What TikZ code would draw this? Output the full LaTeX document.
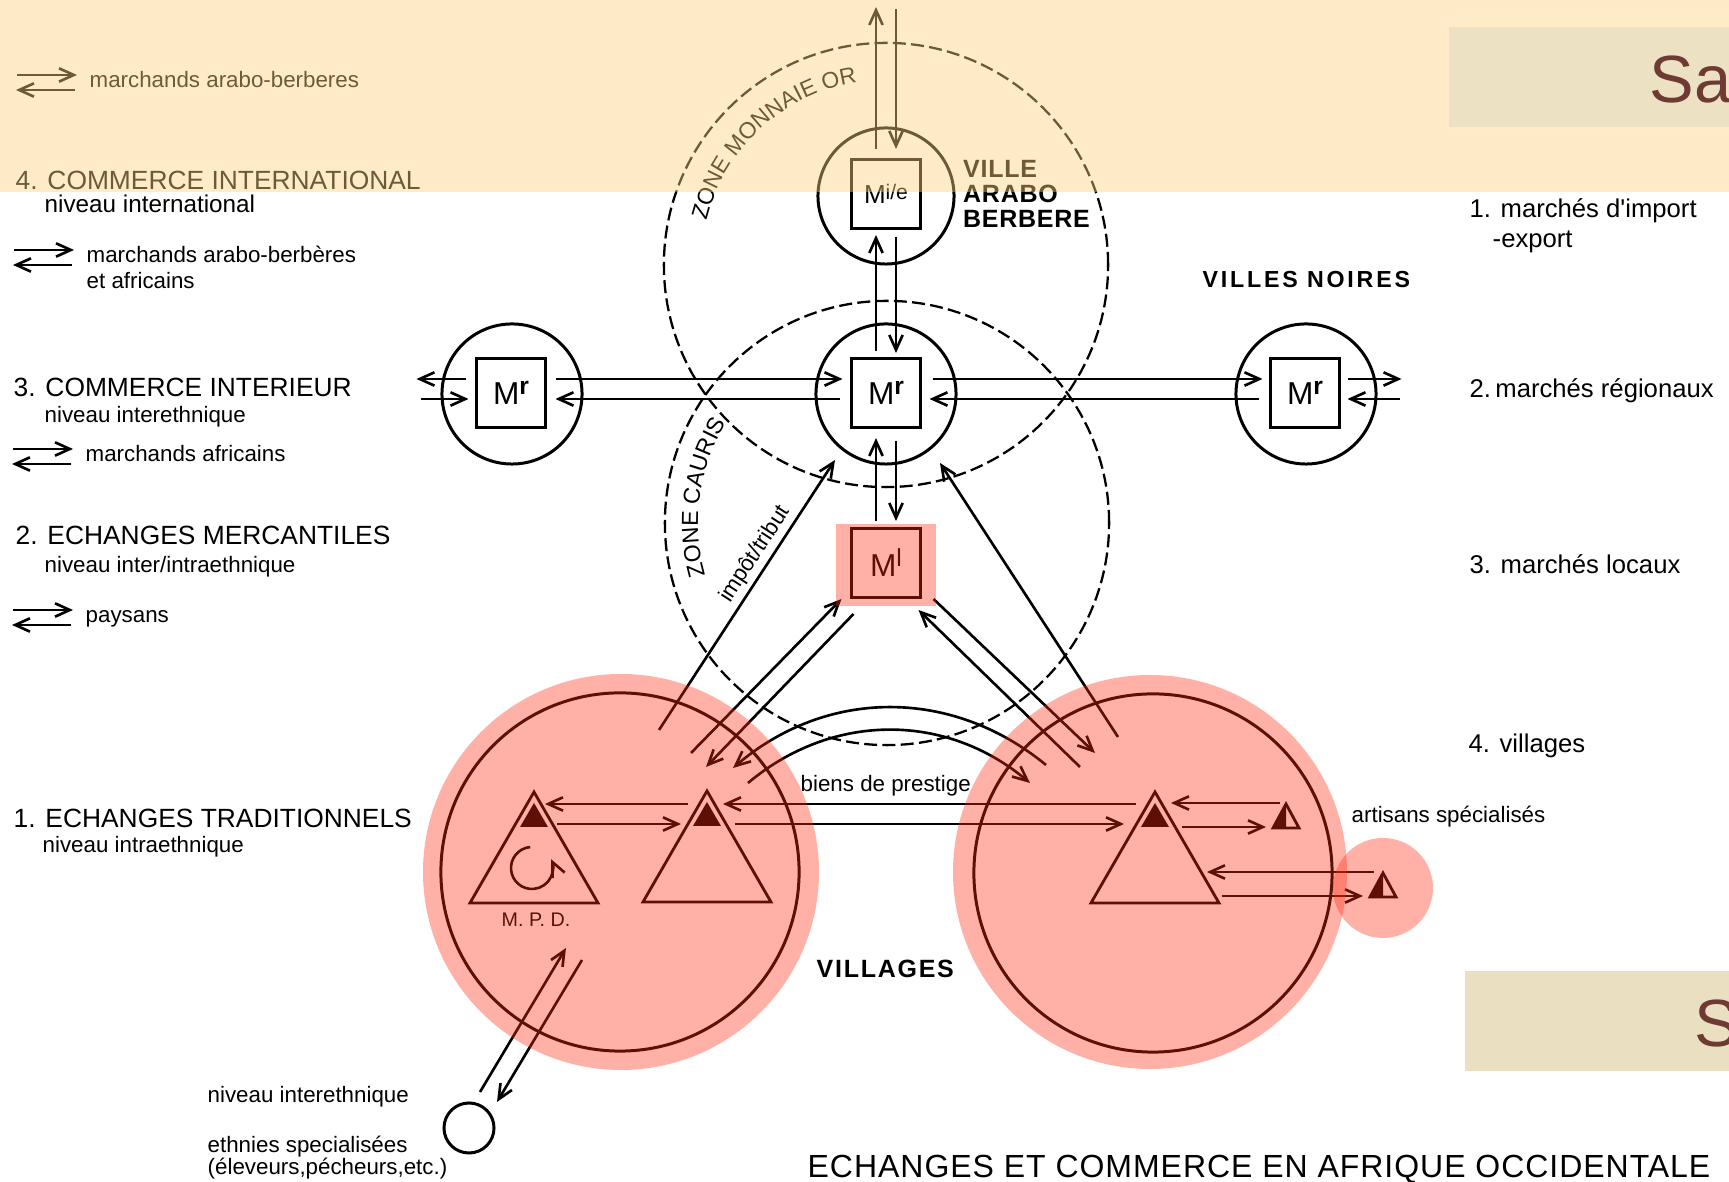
\documentclass[tikz,border=0pt]{standalone}
\usepackage{fontspec}
\setmainfont{Liberation Sans}
\usepackage{tikz}
\usetikzlibrary{positioning,calc,arrows.meta,decorations.text}
\definecolor{veilred}{RGB}{255,45,20}
\definecolor{veilsand}{RGB}{255,210,128}
\definecolor{slide}{HTML}{ECE1C3}
\definecolor{slidelow}{HTML}{EAE0C1}
\definecolor{slidetext}{HTML}{6E3A33}
\newcommand{\market}[4]{{\fontsize{#1}{#1}\selectfont M\raisebox{#3}{\fontsize{#2}{#2}\selectfont #4}}}
\newcommand{\hut}[1]{\draw[line width=0.8pt] (#1) -- ++(64,-111) -- ++(-128,0) -- cycle;
  \fill ($(#1)+(0,-11)$) -- ++(14,-24) -- ++(-28,0) -- cycle;}
\newcommand{\artisan}[1]{\fill (#1) -- ++(0,-24) -- ++(-13,0) -- cycle;
  \draw[line width=0.8pt] (#1) -- ++(13,-24) -- ++(-26,0) -- cycle;}
\newcommand{\pairs}[1]{\draw[flow] ($(#1.base west)+(-72,13)$) -- ($(#1.base west)+(-12,13)$);
  \draw[flow] ($(#1.base west)+(-14,-2)$) -- ($(#1.base west)+(-73,-2)$);}

\begin{document}
\begin{tikzpicture}[x=0.01cm,y=0.01cm,
    flow/.style={-{Straight Barb[length=4.2pt,width=3.8pt]},line width=0.75pt},
    ring/.style={draw,circle,line width=0.85pt,inner sep=0pt},
    mbox/.style={draw,line width=0.85pt,minimum width=0.68cm,minimum height=0.69cm,inner sep=0pt},
    zone/.style={draw,circle,line width=0.65pt,dash pattern=on 3.7pt off 1.5pt,minimum size=4.44cm,inner sep=0pt},
    veil/.style={fill=veilred,fill opacity=0.37},
    head/.style={anchor=base west,inner sep=0pt,font=\fontsize{7.5}{9}\selectfont},
    note/.style={anchor=base west,inner sep=0pt,font=\fontsize{6.35}{7.6}\selectfont},
    level/.style={anchor=base west,inner sep=0pt,font=\fontsize{7.3}{8.8}\selectfont},
    place/.style={anchor=base west,inner sep=0pt,font=\bfseries\fontsize{7.1}{8.5}\selectfont\addfontfeature{LetterSpace=3}}]
  \useasboundingbox (0,0) rectangle (1729,1182);
  \fill[white] (0,0) rectangle (1729,1182);

  \node[zone] (zoneOr) at (886,917) {};
  \node[zone] (zoneCauris) at (887,659) {};
  \path[decorate,decoration={text along path,text align=center,text={|\fontsize{6.5}{7}\selectfont|ZONE MONNAIE OR}}]
    ($(zoneOr.center)+(175:185)$) arc[start angle=175,end angle=90,radius=185];
  \path[decorate,decoration={text along path,text align=center,text={|\fontsize{6.6}{7}\selectfont|ZONE CAURIS}}]
    ($(zoneCauris.center)+(205:189)$) arc[start angle=205,end angle=139,radius=189];

  \node[ring,minimum size=1.36cm] (cMie) at (886,986) {};
  \node[mbox] (mie) at (886,988) {\market{7.4}{6}{1.3pt}{i/e}};
  \node[ring,minimum size=1.4cm] (cMrW) at (512,788) {};
  \node[ring,minimum size=1.4cm] (cMrC) at (886,788) {};
  \node[ring,minimum size=1.4cm] (cMrE) at (1306,788) {};
  \node[mbox] (mrW) at (511,789) {\market{9}{7}{2.8pt}{\textbf{r}}};
  \node[mbox] (mrC) at (886,789) {\market{9}{7}{2.8pt}{\textbf{r}}};
  \node[mbox] (mrE) at (1305,789) {\market{9}{7}{2.8pt}{\textbf{r}}};
  \node[mbox] (ml) at (886,619) {\market{9}{7}{2.85pt}{l}};
  \node[ring,minimum size=3.58cm] (vilW) at (620,310) {};
  \node[ring,minimum size=3.58cm] (vilE) at (1153,309) {};
  \node[ring,minimum size=0.5cm] (ethnie) at (469,54) {};

  \coordinate (hutMpd) at (534,390);
  \coordinate (hutW) at (707,391);
  \coordinate (hutE) at (1155,390);
  \coordinate (art1) at (1286,378);
  \coordinate (art2) at (1383,309);
  \hut{hutMpd} \hut{hutW} \hut{hutE}
  \artisan{art1} \artisan{art2}
  \draw[flow] ($(hutMpd)+(-2,-76)+(95:21)$) arc[start angle=95,end angle=385,radius=21];
  \node[anchor=base,inner sep=0pt,font=\fontsize{5.6}{6}\selectfont] (mpd) at ($(hutMpd)+(2,-135)$) {M. P. D.};

  \draw[flow] ($(mie.north)+(-10,9)$) -- ($(mie.north)+(-10,151)$);
  \draw[flow] ($(mie.north)+(10,149)$) -- ($(mie.north)+(10,9)$);
  \draw[flow] ($(mrC.north)+(-10,6)$) -- ($(mie.south)+(-10,-5)$);
  \draw[flow] ($(mie.south)+(10,-7)$) -- ($(mrC.north)+(10,4)$);
  \draw[flow] ($(ml.north)+(-10,6)$) -- ($(mrC.south)+(-10,-9)$);
  \draw[flow] ($(mrC.south)+(10,-12)$) -- ($(ml.north)+(10,6)$);

  \draw[flow] ($(mrW.west)+(-9,14)$) -- ($(mrW.west)+(-59,14)$);
  \draw[flow] ($(mrW.west)+(-54,-6)$) -- ($(mrW.west)+(-7,-6)$);
  \draw[flow] ($(mrW.east)+(9,14)$) -- ($(mrC.west)+(-8,14)$);
  \draw[flow] ($(mrC.west)+(-10,-6)$) -- ($(mrW.east)+(9,-6)$);
  \draw[flow] ($(mrC.east)+(11,14)$) -- ($(mrE.west)+(-7,14)$);
  \draw[flow] ($(mrE.west)+(-10,-6)$) -- ($(mrC.east)+(8,-6)$);
  \draw[flow] ($(mrE.east)+(7,14)$) -- ($(mrE.east)+(61,14)$);
  \draw[flow] ($(mrE.east)+(59,-6)$) -- ($(mrE.east)+(7,-6)$);

  \draw[flow] ($(hutW)+(-19,-13)$) -- ($(hutMpd)+(11,-12)$);
  \draw[flow] ($(hutMpd)+(23,-32)$) -- ($(hutW)+(-26,-33)$);
  \draw[flow] ($(hutE)+(-19,-12)$) -- ($(hutW)+(16,-13)$);
  \draw[flow] ($(hutW)+(28,-33)$) -- ($(hutE)+(-31,-32)$);
  \draw[flow] ($(art1)+(-6,1)$) -- ($(hutE)+(16,-11)$);
  \draw[flow] ($(hutE)+(27,-35)$) -- ($(art1)+(-20,-23)$);
  \draw[flow] ($(art2)+(-9,1)$) -- ($(hutE)+(52,-80)$);
  \draw[flow] ($(hutE)+(67,-104)$) -- ($(art2)+(-20,-23)$);

  \draw[flow] ($(hutW)+(-16,38)$) -- ($(ml.south west)+(-9,0)$);
  \draw[flow] ($(ml.south west)+(3,-15)$) -- ($(hutW)+(-1,24)$);
  \draw[flow] ($(vilW.center)+(39,142)$) -- node[sloped,above=1pt,pos=0.62,inner sep=0pt,font=\fontsize{6.35}{7.6}\selectfont] (tribut) {impôt/tribut} ($(cMrC.center)+(-51,-66)$);
  \draw[flow] ($(ml.south east)+(12,0)$) -- ($(hutE)+(-60,39)$);
  \draw[flow] ($(hutE)+(-75,25)$) -- ($(ml.south east)+(-3,-11)$);
  \draw[flow] ($(hutE)+(-37,55)$) -- ($(cMrC.center)+(54,-69)$);
  \draw[flow] ($(hutE)+(-109,27)$) to[bend right=40] ($(hutW)+(26,23)$);
  \draw[flow] ($(hutW)+(41,8)$) to[bend left=40] ($(hutE)+(-125,9)$);
  \draw[flow] ($(ethnie.center)+(11,36)$) -- ($(hutMpd)+(32,-156)$);
  \draw[flow] ($(hutMpd)+(48,-168)$) -- ($(ethnie.center)+(28,26)$);

  \node[place] (villeA) at ($(cMie.east)+(7,18)$) {VILLE};
  \node[place] (villeB) at ($(cMie.east)+(7,-7)$) {ARABO};
  \node[place] (villeC) at ($(cMie.east)+(7,-32)$) {BERBERE};
  \node[place,font=\bfseries\fontsize{6.6}{8}\selectfont\addfontfeature{LetterSpace=12}] (noires) at (1202,894) {VILLES NOIRES};
  \node[place,font=\bfseries\fontsize{7.1}{8.5}\selectfont\addfontfeature{LetterSpace=7}] (villages) at (816,204) {VILLAGES};
  \node[note] (prestige) at (800,390) {biens de prestige};
  \node[note] (artisans) at (1351,359) {artisans spécialisés};

  \node[note] (mkArabo) at (89,1094) {marchands arabo-berberes};
  \pairs{mkArabo}
  \node[head] (trade4) at (15,992) {4. COMMERCE INTERNATIONAL};
  \node[note,font=\fontsize{6.9}{8}\selectfont] (trade4sub) at (44,969) {niveau international};
  \node[note] (mkMixed) at (86,919) {marchands arabo-berbères};
  \node[note] (mkMixedB) at (86,893) {et africains};
  \pairs{mkMixed}
  \node[head] (trade3) at (13,785) {3. COMMERCE INTERIEUR};
  \node[note] (trade3sub) at (44,759) {niveau interethnique};
  \node[note] (mkAfr) at (85,720) {marchands africains};
  \pairs{mkAfr}
  \node[head] (trade2) at (15,637) {2. ECHANGES MERCANTILES};
  \node[note] (trade2sub) at (44,609) {niveau inter/intraethnique};
  \node[note] (mkPay) at (85,559) {paysans};
  \pairs{mkPay}
  \node[head] (trade1) at (13,354) {1. ECHANGES TRADITIONNELS};
  \node[note] (trade1sub) at (42,329) {niveau intraethnique};
  \node[note] (ethLvl) at (207,79) {niveau interethnique};
  \node[note] (ethName) at (207,29) {ethnies specialisées};
  \node[note] (ethList) at (207,7) {(éleveurs,pécheurs,etc.)};

  \node[level] (lvl1) at (1469,964) {1. marchés d\textquotesingle import};
  \node[level] (lvl1b) at (1492,934) {-export};
  \node[level] (lvl2) at (1469,784) {2.\,marchés régionaux};
  \node[level] (lvl3) at (1469,608) {3. marchés locaux};
  \node[level] (lvl4) at (1468,429) {4. villages};
  \node[anchor=base west,inner sep=0pt,font=\fontsize{9.1}{10}\selectfont\addfontfeature{LetterSpace=3}] (title) at (807,4) {ECHANGES ET COMMERCE EN AFRIQUE OCCIDENTALE};

  \fill[veil] ($(vilW.center)+(1,0)$) circle[radius=198];
  \fill[veil] ($(vilE.center)+(-3,1)$) circle[radius=197];
  \fill[veil] ($(art2)+(0,-15)$) circle[radius=50];
  \fill[veil] ($(ml.center)+(-50,-43)$) rectangle ($(ml.center)+(50,39)$);
  \fill[veilsand,fill opacity=0.43] (0,990) rectangle (1729,1182);
  \fill[slide] (1449,1055) rectangle (1729,1155);
  \node[anchor=base west,inner sep=0pt,text=slidetext,font=\fontsize{19}{19}\selectfont] (slideA) at (1649,1079) {Sa};
  \fill[slidelow] (1465,111) rectangle (1729,211);
  \node[anchor=base west,inner sep=0pt,text=slidetext,font=\fontsize{19}{19}\selectfont] (slideB) at (1694,135) {S};
\end{tikzpicture}
\end{document}
